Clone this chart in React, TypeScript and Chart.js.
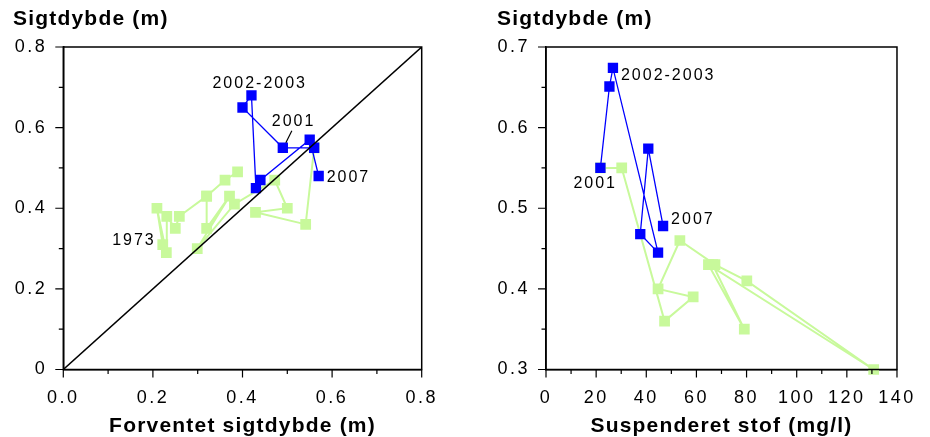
import React, { useEffect, useRef } from 'react';
import { Chart, registerables } from 'chart.js';
Chart.register(...registerables);

// ---------- data ----------
// Left panel: Sigtdybde vs Forventet sigtdybde (1973-2000 green, 2000-2007 blue)
const leftGreenX = [0.222, 0.209, 0.230, 0.231, 0.250, 0.259, 0.320, 0.361, 0.389, 0.389, 0.320, 0.320, 0.371, 0.299, 0.382, 0.472, 0.500, 0.429, 0.541, 0.560];
const leftGreenY = [0.31, 0.40, 0.29, 0.38, 0.35, 0.38, 0.43, 0.47, 0.49, null, 0.43, 0.35, 0.43, 0.30, 0.41, 0.47, 0.40, 0.39, 0.36, 0.55];
const leftBlueX = [0.56, 0.49, 0.40, 0.42, 0.43, 0.44, 0.55, 0.57];
const leftBlueY = [0.55, 0.55, 0.65, 0.68, 0.45, 0.47, 0.57, 0.48];
const diagX = [0, 0.8];
const diagY = [0, 0.8];

// Right panel: Sigtdybde vs Suspenderet stof
const rightGreenX = [66.5, 79.1, 64.8, 130.7, 80.1, 67.4, 53.4, 44.7, 58.7, 47.3, 30.2, 21.7];
const rightGreenY = [0.43, 0.35, 0.43, 0.30, 0.41, 0.43, 0.46, 0.40, 0.39, 0.36, 0.55, 0.55];
const rightBlueX = [21.7, 25.3, 26.7, 44.7, 37.6, 40.8, 46.7];
const rightBlueY = [0.55, 0.651, 0.674, 0.445, 0.468, 0.574, 0.478];

// annotation texts and the point they belong to
const leftLabelTexts = ['2002-2003', '2001', '2007', '1973'];
const leftLabelSeries = ['blue', 'blue', 'blue', 'green'];
const leftLabelIndex = [3, 1, 7, 0];
const rightLabelTexts = ['2002-2003', '2001', '2007'];
const rightLabelSeries = ['blue', 'blue', 'blue'];
const rightLabelIndex = [2, 0, 6];

const yTitle = 'Sigtdybde (m)';
const leftXTitle = 'Forventet sigtdybde (m)';
const rightXTitle = 'Suspenderet stof (mg/l)';

// ---------- styling ----------
const BLUE = '#0000FF';
const GREEN = '#C8F99B';
const FONT = '"Liberation Sans", Arial, sans-serif';

// label offsets [dx, dy, align]
const leftLabelLayout: [number, number, CanvasTextAlign][] = [[-39, -12, 'left'], [-11, -26, 'left'], [8, 2, 'left'], [-7, -4, 'right']];
const rightLabelLayout: [number, number, CanvasTextAlign][] = [[8, 8, 'left'], [-27, 16, 'left'], [8, -6, 'left']];

const pts = (xs: number[], ys: (number | null)[]) => xs.map((x, i) => ({ x, y: ys[i] }));
const isMult = (v: number, m: number) => Math.abs(v / m - Math.round(v / m)) < 1e-6;

type Panel = {
  xMin: number; xMax: number; xStep: number; xEvery: number; xFmt: (v: number) => string;
  yMin: number; yMax: number; yStep: number; yEvery: number; yFmt: (v: number) => string;
  green: any[]; blue: any[]; diag?: any[];
  xTitle: string; yTitleX: number; yAxisW: number; padRight: number;
  labels: { text: string; series: string; index: number; dx: number; dy: number; align: CanvasTextAlign }[];
  leader?: boolean;
};

function buildConfig(p: Panel) {
  const datasets: any[] = [];
  if (p.diag) datasets.push({ data: p.diag, showLine: true, borderColor: '#000', borderWidth: 1.5, pointRadius: 0, order: 0 });
  datasets.push({ data: p.blue, showLine: true, clip: 12, borderColor: BLUE, backgroundColor: BLUE, borderWidth: 1.3, pointStyle: 'rect', pointRadius: 7.3, pointBorderWidth: 0, order: 1 });
  datasets.push({ data: p.green, showLine: true, clip: 12, spanGaps: false, borderColor: GREEN, backgroundColor: GREEN, borderWidth: 2, pointStyle: 'rect', pointRadius: 7.6, pointBorderWidth: 0, order: 2 });

  const tickFont = { family: FONT, size: 18 };
  const overlay = {
    id: 'overlay',
    beforeDraw(chart: any) {
      chart.ctx.letterSpacing = '2.5px';
    },
    afterDraw(chart: any) {
      const ctx = chart.ctx as CanvasRenderingContext2D;
      const a = chart.chartArea;
      ctx.save();
      ctx.strokeStyle = '#000';
      ctx.lineWidth = 1.5;
      ctx.strokeRect(a.left, a.top, a.right - a.left, a.bottom - a.top);
      // tick marks
      ctx.lineWidth = 1.2;
      const xs = chart.scales.x, ys = chart.scales.y;
      ctx.beginPath();
      xs.ticks.forEach((t: any) => {
        const px = xs.getPixelForValue(t.value);
        const len = isMult(t.value, p.xEvery) ? 8 : 4.5;
        ctx.moveTo(px, a.bottom); ctx.lineTo(px, a.bottom + len);
      });
      ys.ticks.forEach((t: any) => {
        const py = ys.getPixelForValue(t.value);
        const len = isMult(t.value, p.yEvery) ? 8 : 4.5;
        ctx.moveTo(a.left, py); ctx.lineTo(a.left - len, py);
      });
      ctx.stroke();
      // titles
      (ctx as any).letterSpacing = '1.2px';
      ctx.fillStyle = '#000';
      ctx.font = `bold 21px ${FONT}`;
      ctx.textAlign = 'left';
      ctx.textBaseline = 'alphabetic';
      ctx.fillText(yTitle, p.yTitleX, 25);
      ctx.textAlign = 'center';
      ctx.fillText(p.xTitle, (a.left + a.right) / 2, 431.5);
      // annotations
      (ctx as any).letterSpacing = '2px';
      ctx.font = `16px ${FONT}`;
      ctx.textBaseline = 'middle';
      p.labels.forEach((l) => {
        const src = l.series === 'blue' ? p.blue : p.green;
        const d = src[l.index];
        const px = xs.getPixelForValue(d.x);
        const py = ys.getPixelForValue(d.y);
        ctx.textAlign = l.align;
        ctx.fillText(l.text, px + l.dx, py + l.dy);
      });
      if (p.leader) {
        const d = p.blue[1];
        const px = xs.getPixelForValue(d.x);
        const py = ys.getPixelForValue(d.y);
        ctx.strokeStyle = '#000';
        ctx.lineWidth = 1.2;
        ctx.beginPath();
        ctx.moveTo(px + 9, py - 17);
        ctx.lineTo(px + 3, py - 5);
        ctx.stroke();
      }
      ctx.restore();
    },
  };

  return {
    type: 'scatter' as const,
    data: { datasets },
    plugins: [overlay],
    options: {
      animation: false as const,
      responsive: false,
      maintainAspectRatio: false,
      layout: { padding: { top: 47, right: p.padRight, left: 0, bottom: 0 } },
      plugins: { legend: { display: false }, tooltip: { enabled: false }, title: { display: false } },
      scales: {
        x: {
          type: 'linear' as const, min: p.xMin, max: p.xMax,
          ticks: { stepSize: p.xStep, autoSkip: false, maxRotation: 0, minRotation: 0, color: '#000', font: tickFont, padding: 18,
            callback: (v: any) => (isMult(v, p.xEvery) ? p.xFmt(v) : '') },
          grid: { drawOnChartArea: false, drawTicks: false },
          border: { display: true, color: '#000', width: 1.5 },
          afterFit: (s: any) => { s.height = 437 - 369.5; },
        },
        y: {
          type: 'linear' as const, min: p.yMin, max: p.yMax,
          ticks: { stepSize: p.yStep, autoSkip: false, color: '#000', font: tickFont, padding: 16,
            callback: (v: any) => (isMult(v, p.yEvery) ? p.yFmt(v) : '') },
          grid: { drawOnChartArea: false, drawTicks: false },
          border: { display: true, color: '#000', width: 1.5 },
          afterFit: (s: any) => { s.width = p.yAxisW; },
        },
      },
    },
  };
}

const leftPanel: Panel = {
  xMin: 0, xMax: 0.8, xStep: 0.1, xEvery: 0.2, xFmt: (v) => v.toFixed(1),
  yMin: 0, yMax: 0.8, yStep: 0.1, yEvery: 0.2, yFmt: (v) => (v === 0 ? '0' : v.toFixed(1)),
  green: pts(leftGreenX, leftGreenY), blue: pts(leftBlueX, leftBlueY), diag: pts(diagX, diagY),
  xTitle: leftXTitle, yTitleX: 13, yAxisW: 63.3, padRight: 43.3,
  labels: leftLabelTexts.map((t, i) => ({ text: t, series: leftLabelSeries[i], index: leftLabelIndex[i], dx: leftLabelLayout[i][0], dy: leftLabelLayout[i][1], align: leftLabelLayout[i][2] })),
  leader: true,
};

const rightPanel: Panel = {
  xMin: 0, xMax: 140, xStep: 10, xEvery: 20, xFmt: (v) => String(Math.round(v)),
  yMin: 0.3, yMax: 0.7, yStep: 0.05, yEvery: 0.1, yFmt: (v) => v.toFixed(1),
  green: pts(rightGreenX, rightGreenY), blue: pts(rightBlueX, rightBlueY),
  xTitle: rightXTitle, yTitleX: 32, yAxisW: 81, padRight: 25.5,
  labels: rightLabelTexts.map((t, i) => ({ text: t, series: rightLabelSeries[i], index: rightLabelIndex[i], dx: rightLabelLayout[i][0], dy: rightLabelLayout[i][1], align: rightLabelLayout[i][2] })),
};

function ChartPanel({ panel, left }: { panel: Panel; left: number }) {
  const ref = useRef<HTMLCanvasElement>(null);
  useEffect(() => {
    if (!ref.current) return;
    const chart = new Chart(ref.current, buildConfig(panel) as any);
    return () => chart.destroy();
  }, []);
  return (
    <canvas ref={ref} width={465} height={437}
      style={{ position: 'absolute', left, top: 0, width: 465, height: 437 }} />
  );
}

export default function App() {
  return (
    <div style={{ position: 'absolute', left: 0, top: 0, width: 930, height: 437, background: '#fff' }}>
      <ChartPanel panel={leftPanel} left={0} />
      <ChartPanel panel={rightPanel} left={465} />
    </div>
  );
}
